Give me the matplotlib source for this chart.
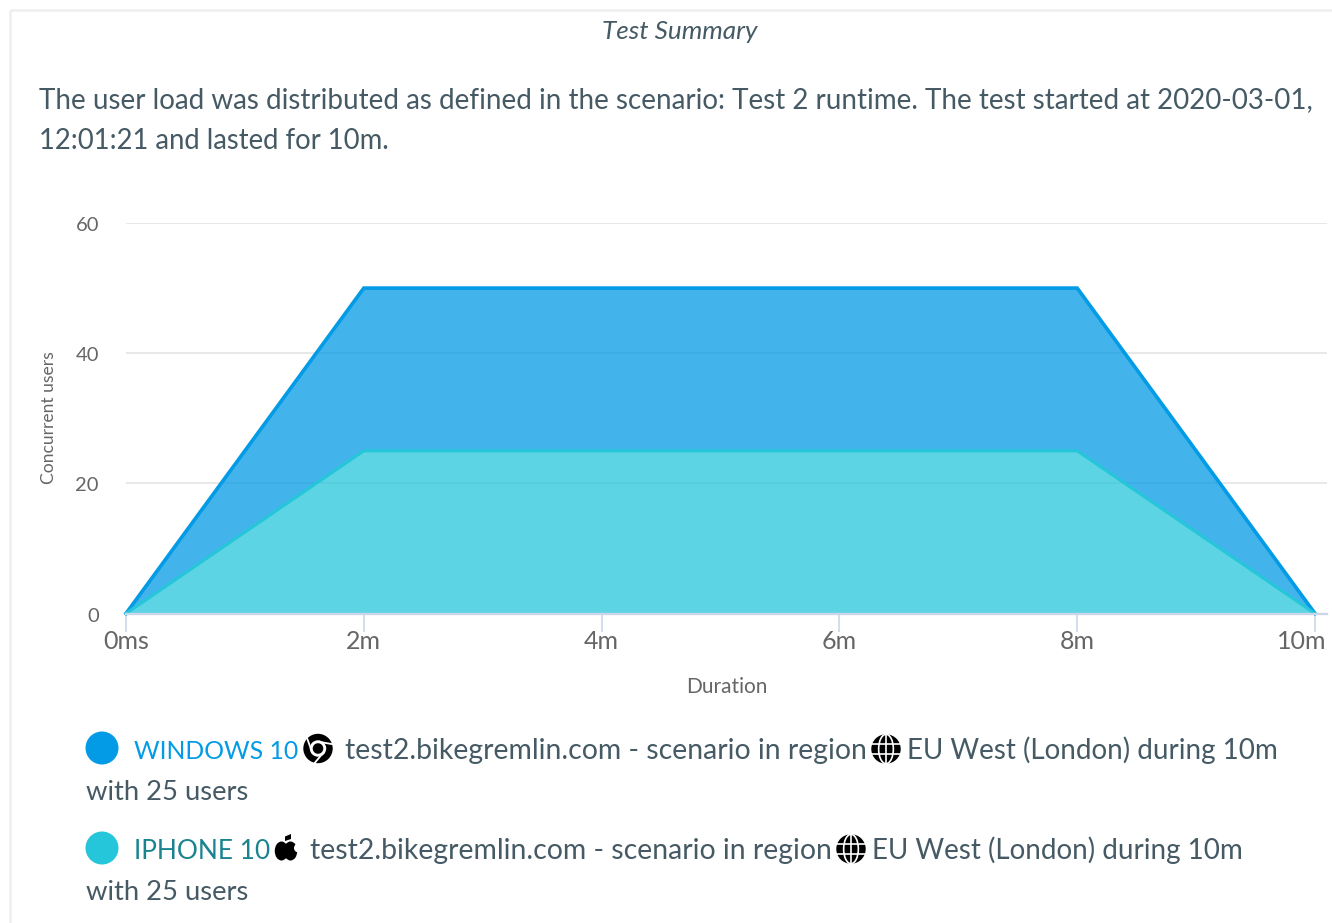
import math
import matplotlib
matplotlib.use("Agg")
import matplotlib.pyplot as plt
from matplotlib.patches import Circle, Rectangle, Ellipse, PathPatch
from matplotlib.path import Path
from matplotlib.transforms import ScaledTranslation

W, H = 1332, 923
FONT = ["Lato", "DejaVu Sans"]
plt.rcParams["font.family"] = FONT

# Data
minutes = [0, 2, 8, 10]
windows_users = [0, 25, 25, 0]
iphone_users = [0, 25, 25, 0]
x_ticks = [0, 2, 4, 6, 8, 10]
x_labels = ["0ms", "2m", "4m", "6m", "8m", "10m"]
y_ticks = [0, 20, 40, 60]
total_users = [w + i for w, i in zip(windows_users, iphone_users)]

BLUE = "#039be5"
CYAN = "#26c6da"
TEXT = "#455a64"
TICK = "#666666"

fig = plt.figure(figsize=(W / 100, H / 100), dpi=100, facecolor="white")

# Page overlay in pixel coordinates (y down)
page = fig.add_axes([0, 0, 1, 1], zorder=3)
page.set_xlim(0, W)
page.set_ylim(H, 0)
page.axis("off")
page.patch.set_alpha(0)

# Card border
page.add_patch(Rectangle((9.5, 9.5), W + 20, H + 20, fill=False, ec="#eeeeee", lw=1.8))

# Chart
ax = fig.add_axes([126 / W, 1 - 613.5 / H, (1327 - 126) / W, (613.5 - 223) / H], zorder=1)
ax.set_xlim(0, (1327 - 126) / 118.9)
ax.set_ylim(0, 60)
ax.fill_between(minutes, iphone_users, total_users, color=BLUE, alpha=0.75, lw=0)
ax.plot(minutes, total_users, color=BLUE, lw=2.6, solid_joinstyle="miter", clip_on=False)
ax.fill_between(minutes, iphone_users, color=CYAN, alpha=0.75, lw=0, zorder=3)
ax.plot(minutes, iphone_users, color=CYAN, lw=2.2, zorder=3, clip_on=False)

ax.set_xticks(x_ticks, x_labels)
ax.set_yticks(y_ticks)
ax.grid(axis="y", color="#e6e6e6", lw=1.3)
ax.set_axisbelow(True)
for s in ("top", "right", "left"):
    ax.spines[s].set_visible(False)
ax.spines["bottom"].set_color("#ccd6eb")
ax.spines["bottom"].set_linewidth(1.7)
ax.spines["bottom"].set_zorder(5)
ax.tick_params(axis="x", length=13, width=1.2, color="#ccd6eb", labelsize=18, labelcolor=TICK, pad=-1)
ax.tick_params(axis="y", length=0, labelsize=14.5, labelcolor=TICK, pad=19.5)
ax.patch.set_alpha(0)
last = ax.get_xticklabels()[-1]
last.set_transform(last.get_transform() + ScaledTranslation(-13 / 100, 0, fig.dpi_scale_trans))
for lab in ax.get_yticklabels():
    lab.set_transform(lab.get_transform() + ScaledTranslation(0, -1 / 100, fig.dpi_scale_trans))
page.text(726.5, 687, "Duration", fontsize=15, color=TICK, ha="center", va="center")
page.text(48.5, 418, "Concurrent users", fontsize=12.6, color=TICK, ha="center", va="center", rotation=90)

# Headline and paragraph
page.text(680, 31.5, "Test Summary", fontsize=18.8, style="italic", color=TEXT, ha="center", va="center")
page.text(39, 108, "The user load was distributed as defined in the scenario: Test 2 runtime. The test started at 2020-03-01,",
          fontsize=19.97, color=TEXT, ha="left", va="baseline")
page.text(39, 149, "12:01:21 and lasted for 10m.", fontsize=19.8, color=TEXT, ha="left", va="baseline")


def chrome(cx, cy, r=14.7):
    page.add_patch(Circle((cx, cy), r, fc="black", ec="none"))
    page.add_patch(Circle((cx, cy), r * 0.56, fc="white", ec="none"))
    page.add_patch(Circle((cx, cy), r * 0.36, fc="black", ec="none"))
    for deg in (80, 200, 320):
        t = math.radians(deg)
        sx, sy = cx + r * 0.46 * math.cos(t), cy - r * 0.46 * math.sin(t)
        dx, dy = math.sin(t), math.cos(t)
        page.plot([sx, sx + dx * r * 0.9], [sy, sy + dy * r * 0.9], color="white", lw=1.3)


def globe(cx, cy, r=14.7):
    page.add_patch(Circle((cx, cy), r, fc="black", ec="none"))
    page.add_patch(Ellipse((cx, cy), r * 1.0, r * 2, fc="none", ec="white", lw=1.2))
    page.plot([cx - r, cx + r], [cy - r * 0.36, cy - r * 0.36], color="white", lw=1.2)
    page.plot([cx - r, cx + r], [cy + r * 0.36, cy + r * 0.36], color="white", lw=1.2)
    page.plot([cx, cx], [cy - r, cy + r], color="white", lw=1.2)


def apple(cx, cy):
    page.add_patch(Ellipse((cx - 4.5, cy + 2.5), 13.5, 19, fc="black", ec="none"))
    page.add_patch(Ellipse((cx + 4.5, cy + 2.5), 13.5, 19, fc="black", ec="none"))
    page.add_patch(Circle((cx + 12.5, cy - 0.5), 4.5, fc="white", ec="none"))
    leaf = Path([(cx - 1, cy - 7.5), (cx - 1, cy - 12), (cx + 5, cy - 14.5), (cx + 5, cy - 9.5), (cx - 1, cy - 7.5)],
                [Path.MOVETO, Path.LINETO, Path.LINETO, Path.LINETO, Path.CLOSEPOLY])
    page.add_patch(PathPatch(leaf, fc="black", ec="none"))


def legend_row(y, color, label, label_color, label_size, text_x, icon, icon_x, globe_x, tail_x):
    page.add_patch(Circle((102, y - 1), 16.5, fc=color, ec="none"))
    base = y + 10
    page.text(134.5, base, label, fontsize=label_size, color=label_color, ha="left", va="baseline")
    icon(icon_x, y - 0.5)
    page.text(text_x, base, SCEN, fontsize=20.4, color=TEXT, ha="left", va="baseline")
    globe(globe_x, y)
    page.text(tail_x, base, "EU West (London) during 10m", fontsize=20.0, color=TEXT, ha="left", va="baseline")
    page.text(86, base + 41, "with 25 users", fontsize=19.7, color=TEXT, ha="left", va="baseline")


SCEN = "test2.bikegremlin.com - scenario in region"
legend_row(749, BLUE, "WINDOWS 10", BLUE, 17.85, 345, chrome, 318, 886, 907)
legend_row(849, CYAN, "IPHONE 10", "#1a838f", 18.9, 310, apple, 286, 851, 872)

fig.savefig("out.png", dpi=100)
